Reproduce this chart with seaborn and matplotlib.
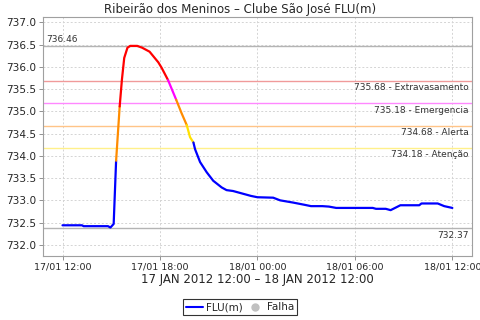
import matplotlib
matplotlib.use("Agg")
import matplotlib.pyplot as plt
import matplotlib.dates as mdates
from matplotlib.lines import Line2D
import seaborn as sns
import pandas as pd
import numpy as np

# ---- data ----
hours = [0.0, 1.2, 1.3, 2.8, 2.95, 3.15, 3.3, 3.52, 3.66, 3.8, 4.0, 4.17, 4.6, 4.9,
         5.36, 5.9, 6.1, 6.5, 7.0, 7.34, 7.65, 7.85, 8.06, 8.16, 8.47, 8.88, 9.28,
         9.8, 10.1, 10.5, 11.0, 11.6, 12.0, 12.97, 13.4, 14.2, 14.9, 15.3, 16.0,
         16.4, 16.85, 19.1, 19.3, 19.9, 20.2, 20.8, 21.96, 22.1, 23.1, 23.5, 24.0]
flu = [732.44, 732.44, 732.42, 732.42, 732.39, 732.47, 733.89, 735.11, 735.72, 736.2,
       736.43, 736.47, 736.47, 736.43, 736.34, 736.1, 735.98, 735.70, 735.26, 734.95,
       734.69, 734.42, 734.30, 734.15, 733.86, 733.63, 733.44, 733.29, 733.23, 733.21,
       733.16, 733.10, 733.07, 733.06, 733.0, 732.95, 732.90, 732.87, 732.87, 732.86,
       732.83, 732.83, 732.81, 732.81, 732.78, 732.89, 732.89, 732.93, 732.93, 732.87,
       732.83]
start = pd.Timestamp("2012-01-17 12:00")
times = [start + pd.Timedelta(hours=h) for h in hours]

thresh_values = [735.68, 735.18, 734.68, 734.18]
thresh_names = ["Extravasamento", "Emergencia", "Alerta", "Atenção"]
thresh_line_colors = ["#f09a9a", "#ff88ff", "#ffc488", "#fff08a"]
level_colors = ["#ff0000", "#ff00ff", "#ff8c00", "#ffe000"]
max_val, min_val = 736.46, 732.37

ytick_vals = [732.0, 732.5, 733.0, 733.5, 734.0, 734.5, 735.0, 735.5, 736.0, 736.5, 737.0]
xtick_times = [pd.Timestamp("2012-01-17 12:00"), pd.Timestamp("2012-01-17 18:00"),
               pd.Timestamp("2012-01-18 00:00"), pd.Timestamp("2012-01-18 06:00"),
               pd.Timestamp("2012-01-18 12:00")]


def level_color(v):
    for t, c in zip(thresh_values, level_colors):
        if v > t:
            return c
    return "#0000ff"


# build colored runs
rows = []
run = 0
cur_color = level_color(flu[1])
run_colors = {0: cur_color}
rows.append((run, times[0], flu[0]))
for i in range(1, len(flu)):
    c = level_color(flu[i])
    if c != cur_color:
        run += 1
        cur_color = c
        run_colors[run] = c
        rows.append((run, times[i - 1], flu[i - 1]))
    rows.append((run, times[i], flu[i]))
df = pd.DataFrame(rows, columns=["run", "time", "flu"])

sns.set_theme(style="white")
plt.rcParams['font.family'] = ['DejaVu Sans']

fig = plt.figure(figsize=(4.8, 3.2), dpi=100)
ax = fig.add_axes([0.0896, 0.2, 0.8934, 0.747])

# grid
ax.grid(True, color="#d4d4d4", linestyle=(0, (2, 2)), linewidth=0.7)
ax.set_axisbelow(True)

# threshold lines
for v, n, c in zip(thresh_values, thresh_names, thresh_line_colors):
    ax.axhline(v, color=c, lw=1.0, zorder=1)
ax.axhline(max_val, color="#b4b4b4", lw=1.0, zorder=1)
ax.axhline(min_val, color="#b4b4b4", lw=1.0, zorder=1)

sns.lineplot(data=df, x="time", y="flu", hue="run", palette=run_colors,
             legend=False, sort=False, estimator=None, lw=1.6, ax=ax, zorder=3)

xmin = start - pd.Timedelta(hours=1.2)
xmax = start + pd.Timedelta(hours=25.2)
ax.set_xlim(xmin, xmax)
ax.set_ylim(731.75, 737.12)

# labels
for v, n in zip(thresh_values, thresh_names):
    ax.text(0.993, v - 0.05, f"{v:.2f} - {n}", transform=ax.get_yaxis_transform(),
            ha="right", va="top", fontsize=6.5, color="#333333")
ax.text(0.007, max_val + 0.05, f"{max_val:.2f}", transform=ax.get_yaxis_transform(),
        ha="left", va="bottom", fontsize=6.5, color="#333333")
ax.text(0.993, min_val - 0.05, f"{min_val:.2f}", transform=ax.get_yaxis_transform(),
        ha="right", va="top", fontsize=6.5, color="#333333")

ax.set_yticks(ytick_vals)
ax.set_yticklabels([f"{v:.1f}" for v in ytick_vals])
ax.set_xticks(xtick_times)
ax.xaxis.set_major_formatter(mdates.DateFormatter("%d/%m %H:%M"))
ax.tick_params(axis="both", labelsize=6.8, length=3, width=0.6, color="#808080",
               direction="out", bottom=True, left=True, pad=2)
ax.tick_params(axis="y", labelsize=7.6)
for s in ax.spines.values():
    s.set_color("#a0a0a0")
    s.set_linewidth(0.8)

ax.set_ylabel("")
ax.set_xlabel("17 JAN 2012 12:00 – 18 JAN 2012 12:00", fontsize=8.5, labelpad=1)
fig.suptitle("Ribeirão dos Meninos – Clube São José FLU(m)", fontsize=8.5,
             x=0.5, y=0.99, va="top")

handles = [Line2D([], [], color="#0000ff", lw=1.5),
           Line2D([], [], color="#c0c0c0", marker="o", lw=0, markersize=5)]
leg = fig.legend(handles, ["FLU(m)", "Falha"], loc="center", bbox_to_anchor=(0.5, 0.04),
                 ncol=2, fontsize=7.5, frameon=True, fancybox=False, handlelength=1.6,
                 handletextpad=0.3, columnspacing=0.4, borderpad=0.3)
leg.get_frame().set_edgecolor("black")
leg.get_frame().set_linewidth(0.8)

fig.savefig("out.png", dpi=100)
